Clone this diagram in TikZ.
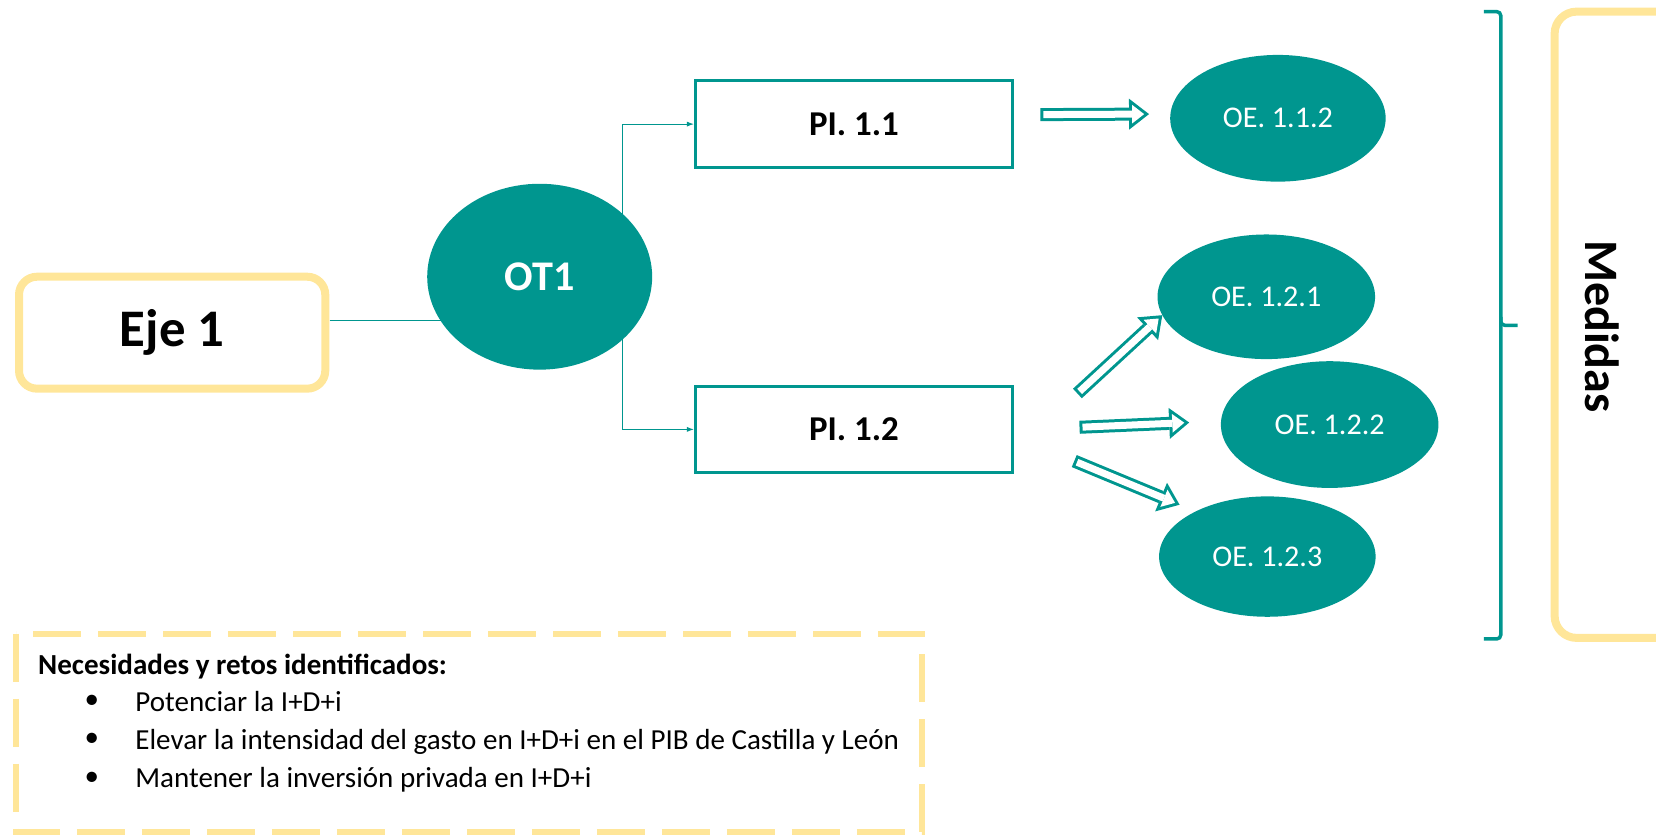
\documentclass[tikz,border=0pt]{standalone}
\usepackage{fontspec}
\setmainfont{Carlito}
\usetikzlibrary{arrows.meta,shapes.geometric,positioning}
\definecolor{tealOT}{RGB}{0,150,143}
\definecolor{amarillo}{RGB}{255,230,153}

\begin{document}
\begin{tikzpicture}[x=1pt,y=-1pt,scale=1.0561,every node/.style={transform shape},
	ejebox/.style={draw=amarillo, line width=8pt, rounded corners=18pt, minimum width=290pt, minimum height=106pt, inner sep=0pt, font=\fontsize{50}{58}\selectfont\bfseries},
	piblock/.style={draw=tealOT, line width=3pt, minimum width=300pt, minimum height=82pt, inner sep=0pt, font=\fontsize{33}{38}\selectfont\bfseries},
	oeoval/.style={ellipse, fill=tealOT, text=white, inner sep=0pt, font=\fontsize{28.5}{33}\selectfont},
	fino/.style={draw=tealOT, line width=1pt},
	hueca/.style={draw=tealOT, line width=13pt, -{Triangle[length=20pt,width=31pt,line width=0pt]},
		postaction={draw=white, line width=7pt, shorten >=4.9pt, shorten <=3pt, -{Triangle[length=12pt,width=18.6pt,line width=0pt]}}},
	listtext/.style={anchor=base west, inner sep=0pt, font=\fontsize{27.5}{32}\selectfont},
	vineta/.style={anchor=center, inner sep=0pt, font=\fontsize{27.5}{32}\selectfont},
	]
	\useasboundingbox (0,0) rectangle (1568,790.6);
	\clip (0,0) rectangle (1568,790.6);
	
	% Eje and objetivo tematico
	\node[ejebox] (eje) at (163,315) {Eje 1};
	\node[ellipse, fill=tealOT, text=white, minimum width=213pt, minimum height=176pt, inner sep=0pt,
		font=\fontsize{40}{46}\selectfont\bfseries] (ot) at (511,262) {OT1};
	\draw[fino] ([yshift=12pt]eje.east) -- ([yshift=12pt]eje.east -| ot.center);
	
	% Prioridades de inversion
	\node[piblock] (pi1) at (808.5,117.5) {PI. 1.1};
	\node[piblock] (pi2) at (808.5,406.5) {PI. 1.2};
	\draw[fino, -{Latex[length=7pt,width=5pt]}] ([xshift=78pt]ot.center) |- (pi1.west);
	\draw[fino, -{Latex[length=7pt,width=5pt]}] ([xshift=78pt]ot.center) |- (pi2.west);
	
	% Objetivos especificos
	\node[oeoval, minimum width=204pt, minimum height=120pt] (oe112) at (1210,112) {OE. 1.1.2};
	\node[oeoval, minimum width=206pt, minimum height=118pt] (oe121) at (1199,281) {OE. 1.2.1};
	\node[oeoval, minimum width=206pt, minimum height=120pt] (oe122) at (1259,402) {OE. 1.2.2};
	\node[oeoval, minimum width=205pt, minimum height=114pt] (oe123) at (1200,527) {OE. 1.2.3};
	
	\draw[hueca] ([xshift=25pt,yshift=9pt]pi1.east) -- ([xshift=-20pt,yshift=4pt]oe112.west);
	\draw[hueca] ([shift={(60pt,34pt)}]pi2.east) -- (oe121.190);
	\draw[hueca] ([shift={(62pt,2pt)}]pi2.east) -- ([xshift=-30pt,yshift=2pt]oe122.west);
	\draw[hueca] ([shift={(57pt,-30pt)}]pi2.east) -- ([shift={(-12pt,8pt)}]oe123.150);
	
	% Llave y medidas
	\draw[tealOT, line width=3.5pt, rounded corners=4pt] (1405,11) -- (1421,11) -- (1421,308) -- (1437,308);
	\draw[tealOT, line width=3.5pt, rounded corners=4pt] (1421,300) -- (1421,605) -- (1405,605);
	\draw[amarillo, line width=8pt, rounded corners=22pt] (1472,11) rectangle (1720,604);
	\node[rotate=-90, font=\fontsize{45.5}{52}\selectfont\bfseries] (medidas) at (1517,309) {Medidas};
	
	% Necesidades
	\draw[amarillo, line width=6pt, dash pattern=on 48pt off 17pt] (14.7,600) rectangle (873,788);
	\node[listtext, font=\fontsize{27.5}{32}\selectfont\bfseries] (nec) at (36,639) {Necesidades y retos identificados:};
	\node[vineta] (b1) at (87,665) {\textbullet};
	\node[listtext] (t1) at (128,674) {Potenciar la I+D+i};
	\node[vineta] (b2) at (87,701) {\textbullet};
	\node[listtext] (t2) at (128,710) {Elevar la intensidad del gasto en I+D+i en el PIB de Castilla y León};
	\node[vineta] (b3) at (87,737) {\textbullet};
	\node[listtext] (t3) at (128,746) {Mantener la inversión privada en I+D+i};
\end{tikzpicture}
\end{document}
